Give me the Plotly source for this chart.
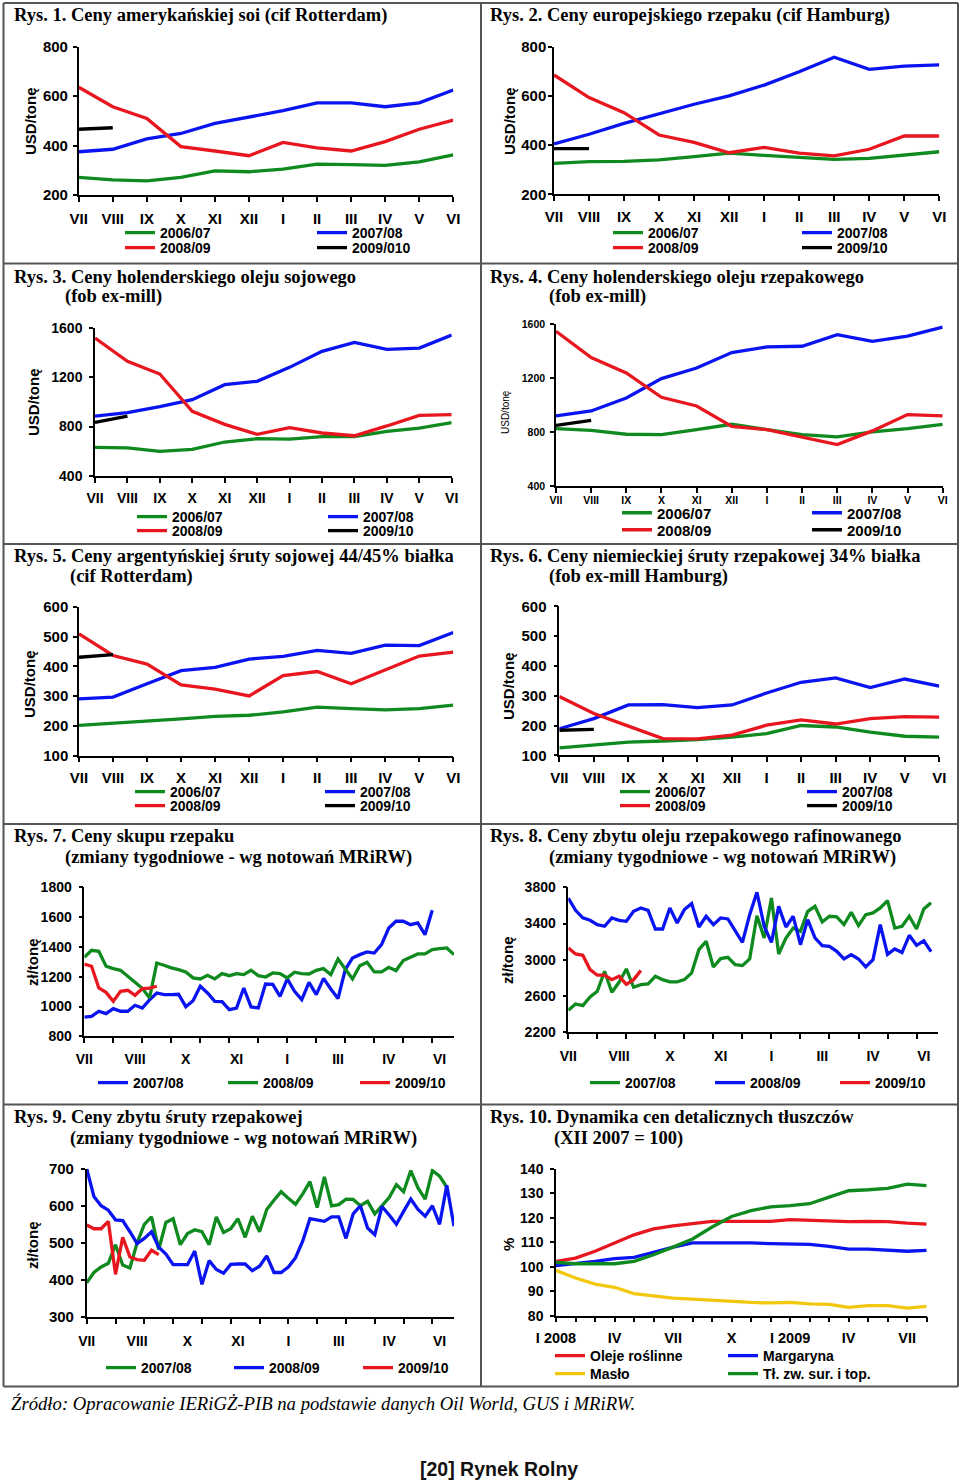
import plotly.graph_objects as go

W, H = 960, 1484

# ---------------- DATA ----------------
months12 = ["VII", "VIII", "IX", "X", "XI", "XII", "I", "II", "III", "IV", "V", "VI"]

# Rys. 1 - soja (USD/t)
r1_0607 = [271, 261, 257, 271, 298, 294, 305, 325, 323, 320, 334, 362]
r1_0708 = [375, 385, 427, 449, 490, 514, 541, 573, 573, 557, 573, 625]
r1_0809 = [636, 557, 510, 396, 378, 359, 413, 391, 378, 416, 466, 503]
r1_0910 = [466, 472]
# Rys. 2 - rzepak
r2_0607 = [326, 333, 334, 340, 353, 367, 358, 350, 342, 346, 360, 373]
r2_0708 = [405, 444, 488, 526, 566, 600, 644, 698, 757, 708, 721, 726]
r2_0809 = [685, 593, 532, 441, 411, 369, 391, 367, 356, 383, 437, 437]
r2_0910 = [386, 386]
# Rys. 3 - olej sojowy
r3_0607 = [632, 627, 600, 616, 675, 702, 699, 718, 718, 761, 788, 831]
r3_0708 = [885, 912, 961, 1018, 1139, 1166, 1279, 1409, 1481, 1425, 1435, 1541]
r3_0809 = [1516, 1328, 1225, 923, 818, 737, 791, 748, 726, 805, 891, 896]
r3_0910 = [834, 885]
# Rys. 4 - olej rzepakowy
r4_0607 = [826, 813, 784, 781, 818, 858, 818, 781, 764, 801, 826, 858]
r4_0708 = [920, 957, 1053, 1197, 1276, 1390, 1432, 1437, 1523, 1474, 1513, 1580]
r4_0809 = [1548, 1353, 1239, 1058, 994, 843, 818, 764, 707, 809, 930, 920]
r4_0910 = [850, 887]
# Rys. 5 - sruta sojowa
r5_0607 = [202, 209, 215, 224, 232, 236, 247, 263, 258, 254, 258, 270]
r5_0708 = [291, 297, 342, 386, 397, 425, 434, 454, 444, 472, 470, 514]
r5_0809 = [510, 437, 408, 338, 324, 301, 369, 383, 342, 389, 435, 448]
r5_0910 = [431, 440]
# Rys. 6 - sruta rzepakowa
r6_0607 = [125, 134, 144, 148, 153, 161, 173, 200, 195, 178, 164, 161]
r6_0708 = [189, 223, 269, 270, 260, 269, 309, 345, 360, 327, 356, 332]
r6_0809 = [297, 240, 198, 156, 155, 168, 201, 219, 205, 223, 230, 228]
r6_0910 = [184, 187]

# weekly axis labels (Rys. 7-9)
week_label_pos = [0, 7, 14, 21, 28, 35, 42, 49]
week_labels = ["VII", "VIII", "X", "XI", "I", "III", "IV", "VI"]
week_tick_pos = list(range(0, 49, 4))

# Rys. 7 - skup rzepaku (zl/t)
r7_0708 = [928, 934, 968, 952, 986, 968, 968, 1008, 990, 1045, 1091, 1080, 1080, 1082, 999,
           1039, 1136, 1091, 1035, 1033, 979, 990, 1124, 997, 990, 1151, 1149, 1068, 1185,
           1102, 1046, 1162, 1080, 1189, 1118, 1053, 1247, 1326, 1348, 1366, 1359, 1415, 1527,
           1572, 1572, 1549, 1561, 1482, 1646]
r7_0809 = [1330, 1377, 1370, 1270, 1254, 1243, 1203, 1162, 1122, 1057, 1292, 1277, 1259, 1247,
           1232, 1192, 1185, 1209, 1185, 1221, 1207, 1221, 1214, 1243, 1207, 1198, 1225, 1221,
           1192, 1230, 1221, 1218, 1243, 1254, 1214, 1319, 1254, 1185, 1274, 1297, 1232, 1232,
           1263, 1241, 1308, 1330, 1353, 1353, 1382, 1388, 1393, 1348]
r7_0910 = [1285, 1270, 1124, 1095, 1035, 1102, 1109, 1075, 1120, 1124, 1136]

# Rys. 8 - olej rzepakowy rafinowany (zl/t)
r8_0708 = [2443, 2513, 2494, 2590, 2652, 2873, 2641, 2752, 2899, 2697, 2726, 2733, 2818, 2781,
           2756, 2756, 2781, 2855, 3112, 3204, 2921, 3013, 3028, 2947, 2936, 3009, 3487, 3241,
           3682, 3064, 3241, 3351, 3314, 3535, 3590, 3417, 3480, 3473, 3388, 3524, 3377, 3498,
           3517, 3572, 3653, 3350, 3370, 3480, 3340, 3560, 3630]
r8_0809 = [3682, 3546, 3462, 3436, 3388, 3370, 3462, 3436, 3425, 3535, 3572, 3546, 3340, 3340,
           3572, 3406, 3554, 3620, 3362, 3480, 3388, 3462, 3451, 3326, 3193, 3498, 3745, 3370,
           3193, 3590, 3362, 3480, 3167, 3443, 3241, 3156, 3149, 3094, 3009, 3057, 3009, 2921,
           3002, 3388, 3060, 3120, 3080, 3270, 3160, 3210, 3090]
r8_0910 = [3131, 3064, 3050, 2892, 2830, 2830, 2781, 2818, 2730, 2781, 2881]

# Rys. 9 - sruta rzepakowa (zl/t)
r9_0708 = [392, 420, 435, 445, 495, 440, 432, 500, 550, 570, 482, 555, 565, 495, 525, 535, 530,
           495, 570, 528, 538, 565, 515, 572, 530, 590, 615, 638, 620, 604, 632, 665, 595, 678,
           600, 603, 618, 617, 600, 612, 578, 600, 622, 657, 638, 695, 648, 618, 695, 680, 650]
r9_0809 = [700, 625, 600, 588, 562, 560, 530, 498, 512, 530, 488, 470, 441, 441, 441, 478, 388,
           452, 428, 418, 442, 443, 443, 425, 437, 465, 420, 420, 435, 460, 505, 565, 562, 558,
           570, 570, 512, 578, 600, 540, 522, 598, 575, 550, 585, 618, 590, 572, 600, 550, 655,
           545]
r9_0910 = [548, 538, 538, 558, 415, 515, 462, 455, 453, 480, 468]

# Rys. 10 - dynamika cen detalicznych (XII 2007 = 100)
r10_labels = ["I 2008", "", "", "IV", "", "", "VII", "", "", "X", "", "",
              "I 2009", "", "", "IV", "", "", "VII", ""]
r10_oleje = [102.2, 103.5, 106.3, 109.7, 113.0, 115.4, 116.7, 117.6, 118.5, 118.5, 118.5, 118.5,
             119.2, 118.9, 118.8, 118.4, 118.5, 118.4, 117.8, 117.4]
r10_marg = [100.4, 101.2, 102.2, 103.3, 103.8, 105.9, 108.0, 109.7, 109.7, 109.9, 109.7, 109.4,
            109.4, 109.1, 108.3, 107.2, 107.2, 106.9, 106.3, 106.7]
r10_maslo = [98.5, 95.4, 92.9, 91.6, 89.0, 88.2, 87.2, 86.8, 86.3, 85.7, 85.4, 85.2, 85.4, 84.8,
             84.6, 83.4, 84.1, 84.1, 83.1, 83.8]
r10_tl = [101.8, 101.2, 101.2, 101.2, 102.2, 104.9, 108.0, 111.3, 116.2, 120.5, 122.9, 124.4,
          124.9, 125.7, 128.4, 131.0, 131.4, 132.0, 133.7, 133.1]

# ---------------- STYLE ----------------
GREEN = "#0f8a1e"
BLUE = "#0a14f0"
RED = "#e8171f"
BLACK = "#000000"
YELLOW = "#f2c80f"
SANS = "Liberation Sans"
SERIF = "Liberation Serif"
LW = 3.3


def fx(px):
    return px / W


def fy(px):
    return 1 - px / H


fig = go.Figure()
layout = {}
annotations = []
shapes = []
legend_n = [0]


def axname(k, kind):
    return kind if k == 1 else f"{kind}{k}"


def add_series(k, ys, color, name, text_x, row_y, lfont=14):
    legend_n[0] += 1
    n = legend_n[0]
    lname = "legend" if n == 1 else f"legend{n}"
    fig.add_trace(go.Scatter(
        x=list(range(len(ys))), y=ys, mode="lines", name=name,
        line=dict(color=color, width=LW),
        xaxis=axname(k, "x"), yaxis=axname(k, "y"),
        legend=lname, showlegend=True, hoverinfo="skip"))
    layout[lname] = dict(
        x=fx(text_x - 40), y=fy(row_y), xanchor="left", yanchor="middle",
        orientation="h", bgcolor="rgba(0,0,0,0)", borderwidth=0,
        font=dict(family=SANS, size=lfont, color="black", weight="bold"),
        itemwidth=30)


def set_axes(k, x0, x1, ytop, ybot, xrange, tickvals, ticktext, yrange, dtick,
             xfs=15, yfs=15, xstand=4, ystand=4, show_xlabels=True):
    xa = dict(domain=[fx(x0), fx(x1)], anchor=axname(k, "y"), range=xrange,
              tickmode="array", tickvals=tickvals, ticktext=ticktext,
              ticks="outside", ticklen=5, tickwidth=1.5, tickcolor="black",
              showline=True, linecolor="black", linewidth=1.5,
              showgrid=False, zeroline=False, showticklabels=show_xlabels,
              ticklabelstandoff=xstand, automargin=False,
              tickfont=dict(family=SANS, size=xfs, color="black", weight="bold"),
              fixedrange=True)
    ya = dict(domain=[fy(ybot), fy(ytop)], anchor=axname(k, "x"), range=yrange,
              tickmode="linear", tick0=yrange[0], dtick=dtick,
              ticks="outside", ticklen=4, tickwidth=1.5, tickcolor="black",
              showline=True, linecolor="black", linewidth=1.5,
              showgrid=False, zeroline=False, ticklabelstandoff=ystand, automargin=False,
              tickfont=dict(family=SANS, size=yfs, color="black", weight="bold"),
              fixedrange=True)
    layout["xaxis" if k == 1 else f"xaxis{k}"] = xa
    layout["yaxis" if k == 1 else f"yaxis{k}"] = ya


def week_label_axis(k, extra, xfs=14, xstand=13):
    # overlay axis carrying only the month labels of the weekly charts
    layout[f"xaxis{extra}"] = dict(
        overlaying=axname(k, "x"), anchor=axname(k, "y"), range=[0, 51],
        tickmode="array", tickvals=week_label_pos, ticktext=week_labels,
        ticks="", showline=False, showgrid=False, zeroline=False,
        ticklabelstandoff=xstand, automargin=False,
        tickfont=dict(family=SANS, size=xfs, color="black", weight="bold"),
        fixedrange=True)
    fig.add_trace(go.Scatter(x=[], y=[], mode="lines", showlegend=False, hoverinfo="skip",
                             xaxis=f"x{extra}", yaxis=axname(k, "y")))


def title(text, x, y, size=18.5):
    annotations.append(dict(text=text, x=fx(x), y=fy(y), xref="paper", yref="paper",
                            xanchor="left", yanchor="middle", showarrow=False,
                            font=dict(family=SERIF, size=size, color="black", weight="bold")))


def ytitle(text, x, y, size=15, weight="bold"):
    annotations.append(dict(text=text, x=fx(x), y=fy(y), xref="paper", yref="paper",
                            xanchor="center", yanchor="middle", showarrow=False, textangle=-90,
                            font=dict(family=SANS, size=size, color="black", weight=weight)))


mx = list(range(12))

# ---- Rys. 1
set_axes(1, 78.7, 453.3, 46.7, 195, [0, 11], mx, months12, [200, 800], 200, ystand=2)
add_series(1, r1_0607, GREEN, "2006/07", 160, 233)
add_series(1, r1_0708, BLUE, "2007/08", 352, 233)
add_series(1, r1_0809, RED, "2008/09", 160, 248)
add_series(1, r1_0910, BLACK, "2009/010", 352, 248)
title("Rys. 1. Ceny amerykańskiej soi (cif Rotterdam)", 12, 15)
ytitle("USD/tonę", 30, 121)

# ---- Rys. 2
set_axes(2, 554, 939.3, 46.7, 194.3, [0, 11], mx, months12, [200, 800], 200, xstand=3,
         ystand=-1)
add_series(2, r2_0607, GREEN, "2006/07", 648, 233)
add_series(2, r2_0708, BLUE, "2007/08", 837, 233)
add_series(2, r2_0809, RED, "2008/09", 648, 248)
add_series(2, r2_0910, BLACK, "2009/10", 837, 248)
title("Rys. 2. Ceny europejskiego rzepaku (cif Hamburg)", 488, 15)
ytitle("USD/tonę", 509, 121)

# ---- Rys. 3
set_axes(3, 95, 451.7, 327.7, 476, [0, 11], mx, months12, [400, 1600], 400, xfs=14, yfs=14,
         xstand=3)
add_series(3, r3_0607, GREEN, "2006/07", 172, 517)
add_series(3, r3_0708, BLUE, "2007/08", 363, 517)
add_series(3, r3_0809, RED, "2008/09", 172, 531)
add_series(3, r3_0910, BLACK, "2009/10", 363, 531)
title("Rys. 3. Ceny holenderskiego oleju sojowego", 12, 277)
title("(fob ex-mill)", 63, 297)
ytitle("USD/tonę", 33, 402)

# ---- Rys. 4
set_axes(4, 556, 942.7, 324.3, 486, [0, 11], mx, months12, [400, 1600], 400,
         xfs=10.5, yfs=10.5, xstand=-1, ystand=3)
add_series(4, r4_0607, GREEN, "2006/07", 657, 513, lfont=15)
add_series(4, r4_0708, BLUE, "2007/08", 847, 513, lfont=15)
add_series(4, r4_0809, RED, "2008/09", 657, 530, lfont=15)
add_series(4, r4_0910, BLACK, "2009/10", 847, 530, lfont=15)
title("Rys. 4. Ceny holenderskiego oleju rzepakowego", 488, 277)
title("(fob ex-mill)", 547, 297)
ytitle("USD/tonę", 505, 412, size=10, weight="normal")

# ---- Rys. 5
set_axes(5, 79, 453.3, 607, 755.7, [0, 11], mx, months12, [100, 600], 100, ystand=2, xstand=3)
add_series(5, r5_0607, GREEN, "2006/07", 170, 792)
add_series(5, r5_0708, BLUE, "2007/08", 360, 792)
add_series(5, r5_0809, RED, "2008/09", 170, 806)
add_series(5, r5_0910, BLACK, "2009/10", 360, 806)
title("Rys. 5. Ceny argentyńskiej śruty sojowej 44/45% białka", 12, 556)
title("(cif Rotterdam)", 68, 576)
ytitle("USD/tonę", 30, 684)

# ---- Rys. 6
set_axes(6, 559.3, 939.3, 606.3, 755.3, [0, 11], mx, months12, [100, 600], 100, xstand=3)
add_series(6, r6_0607, GREEN, "2006/07", 655, 792)
add_series(6, r6_0708, BLUE, "2007/08", 842, 792)
add_series(6, r6_0809, RED, "2008/09", 655, 806)
add_series(6, r6_0910, BLACK, "2009/10", 842, 806)
title("Rys. 6. Ceny niemieckiej śruty rzepakowej 34% białka", 488, 556)
title("(fob ex-mill Hamburg)", 547, 576)
ytitle("USD/tonę", 508, 686)

# ---- Rys. 7
set_axes(7, 84.3, 454, 887.3, 1036.3, [0, 51], week_tick_pos, [""] * len(week_tick_pos),
         [800, 1800], 200, yfs=14, show_xlabels=False)
add_series(7, r7_0708, BLUE, "2007/08", 133, 1083)
add_series(7, r7_0809, GREEN, "2008/09", 263, 1083)
add_series(7, r7_0910, RED, "2009/10", 395, 1083)
week_label_axis(7, 11, xstand=13)
title("Rys. 7. Ceny skupu rzepaku", 12, 836)
title("(zmiany tygodniowe - wg notowań MRiRW)", 63, 857)
ytitle("zł/tonę", 32, 962)

# ---- Rys. 8
set_axes(8, 568.3, 938.3, 887.3, 1032.3, [0, 51], week_tick_pos, [""] * len(week_tick_pos),
         [2200, 3800], 400, yfs=14, show_xlabels=False)
add_series(8, r8_0708, GREEN, "2007/08", 625, 1083)
add_series(8, r8_0809, BLUE, "2008/09", 750, 1083)
add_series(8, r8_0910, RED, "2009/10", 875, 1083)
week_label_axis(8, 12, xstand=14)
title("Rys. 8. Ceny zbytu oleju rzepakowego rafinowanego", 488, 836)
title("(zmiany tygodniowe - wg notowań MRiRW)", 547, 857)
ytitle("zł/tonę", 508, 960)

# ---- Rys. 9
set_axes(9, 86.7, 454, 1168.7, 1317, [0, 51], week_tick_pos, [""] * len(week_tick_pos),
         [300, 700], 100, show_xlabels=False)
add_series(9, r9_0708, GREEN, "2007/08", 141, 1368)
add_series(9, r9_0809, BLUE, "2008/09", 269, 1368)
add_series(9, r9_0910, RED, "2009/10", 398, 1368)
week_label_axis(9, 13, xstand=14)
title("Rys. 9. Ceny zbytu śruty rzepakowej", 12, 1117)
title("(zmiany tygodniowe - wg notowań MRiRW)", 68, 1138)
ytitle("zł/tonę", 32, 1245)

# ---- Rys. 10
set_axes(10, 556, 926.7, 1168.7, 1315.7, [0, 19], list(range(20)), r10_labels,
         [80, 140], 10, xfs=14.5, yfs=14, xstand=3)
add_series(10, r10_oleje, RED, "Oleje roślinne", 590, 1356)
add_series(10, r10_marg, BLUE, "Margaryna", 763, 1356)
add_series(10, r10_maslo, YELLOW, "Masło", 590, 1374)
add_series(10, r10_tl, GREEN, "Tł. zw. sur. i top.", 763, 1374)
title("Rys. 10. Dynamika cen detalicznych tłuszczów", 488, 1117)
title("(XII 2007 = 100)", 552, 1138)
ytitle("%", 508, 1245)

# ---- table frame
BORDER = "#555555"
for yv in [3, 263.5, 544, 824, 1104.5, 1386.5]:
    shapes.append(dict(type="line", xref="paper", yref="paper", x0=fx(3.5), x1=fx(958),
                       y0=fy(yv), y1=fy(yv), line=dict(color=BORDER, width=2)))
for xv in [3.5, 481, 958]:
    shapes.append(dict(type="line", xref="paper", yref="paper", x0=fx(xv), x1=fx(xv),
                       y0=fy(3), y1=fy(1386.5), line=dict(color=BORDER, width=2)))

# ---- footer
annotations.append(dict(text="Źródło: Opracowanie IERiGŻ-PIB na podstawie danych Oil World, GUS i MRiRW.",
                        x=fx(9), y=fy(1403), xref="paper", yref="paper", xanchor="left",
                        yanchor="middle", showarrow=False,
                        font=dict(family=SERIF, size=18.7, color="black", style="italic")))
annotations.append(dict(text="[20] Rynek Rolny", x=fx(499), y=fy(1469), xref="paper",
                        yref="paper", xanchor="center", yanchor="middle", showarrow=False,
                        font=dict(family=SANS, size=19.5, color="#111111", weight="bold")))

fig.update_layout(
    width=W, height=H, margin=dict(l=0, r=0, t=0, b=0, pad=0, autoexpand=False),
    paper_bgcolor="white", plot_bgcolor="rgba(0,0,0,0)",
    showlegend=True, annotations=annotations, shapes=shapes,
    **layout)

fig.write_html("out.html", config={"displayModeBar": False, "responsive": False},
               post_script="document.body.style.margin='0px';document.body.style.padding='0px';")
